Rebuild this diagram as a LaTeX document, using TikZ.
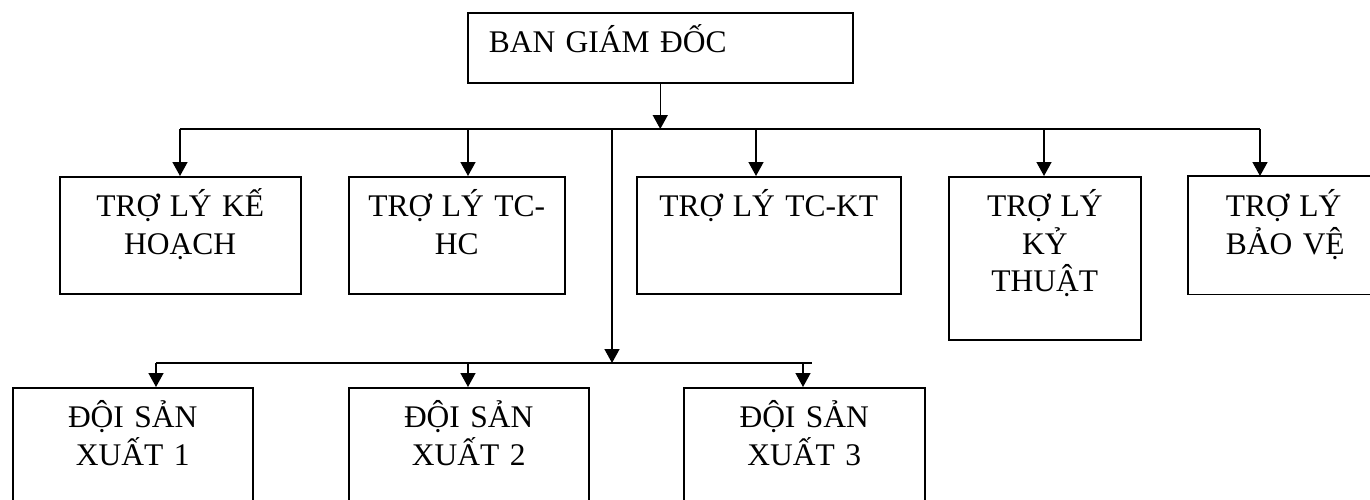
\documentclass[tikz,border=0pt]{standalone}
\usepackage{fontspec}
\setmainfont{Liberation Serif}
\usetikzlibrary{arrows.meta,positioning}

\begin{document}
\begin{tikzpicture}[
    x=1pt, y=-1pt,
    unit/.style={rectangle, draw, line width=1.5pt, anchor=north west, align=center, inner xsep=0pt, inner ysep=0pt, text height=39.5pt, font=\fontsize{31.5}{37.8}\selectfont},
    lead/.style={unit, align=left, inner xsep=21pt},
    arrow/.style={-{Triangle[width=15pt,length=14pt]}, line width=1.5pt},
    bus/.style={line width=1.5pt}
]
\useasboundingbox (0,0) rectangle (1370,499);

% Top - board of directors
\node[lead, text width=343pt, text depth=30.5pt] (bgd) at (467,12) {BAN GIÁM ĐỐC};

% Middle row - assistants
\node[unit, text width=241pt, text depth=77.5pt] (k1) at (59,176) {TRỢ LÝ KẾ\\HOẠCH};
\node[unit, text width=216pt, text depth=77.5pt] (k2) at (348,176) {TRỢ LÝ TC-\\HC};
\node[unit, text width=264pt, text depth=77.5pt] (k3) at (636,176) {TRỢ LÝ TC-KT};
\node[unit, text width=192pt, text depth=123.5pt] (k4) at (948,176) {TRỢ LÝ\\KỶ\\THUẬT};
\node[lead, draw=none, inner xsep=37pt, text width=180pt, text depth=77.5pt] (k5) at (1188,176) {TRỢ LÝ\\BẢO VỆ};
\draw[bus] (k5.north east) -- (k5.north west) -- (k5.south west) -- (k5.south east);

% Bottom row - production teams
\node[unit, text width=240pt, text depth=120pt] (d1) at (12,387) {ĐỘI SẢN\\XUẤT 1};
\node[unit, text width=240pt, text depth=120pt] (d2) at (348,387) {ĐỘI SẢN\\XUẤT 2};
\node[unit, text width=241pt, text depth=120pt] (d3) at (683,387) {ĐỘI SẢN\\XUẤT 3};

% Upper bus
\coordinate (t1) at (180,129);
\coordinate (t2) at (468,129);
\coordinate (t3) at (756,129);
\coordinate (t4) at (1044,129);
\coordinate (t5) at (1260,129);
\draw[arrow] (bgd.south) -- (bgd.south |- t1);
\draw[bus] (t1) -- (t5);
\foreach \n in {1,...,5}
  \draw[arrow] (t\n) -- (t\n |- k\n.north);

% Lower bus
\coordinate (s0) at (612,129);
\coordinate (s1) at (612,363);
\coordinate (b1) at (156,363);
\coordinate (b2) at (468,363);
\coordinate (b3) at (803,363);
\coordinate (bend) at (812,363);
\draw[arrow] (s0) -- (s1);
\draw[bus] (b1) -- (bend);
\foreach \n in {1,2,3}
  \draw[arrow] (b\n) -- (b\n |- d\n.north);

\end{tikzpicture}
\end{document}
